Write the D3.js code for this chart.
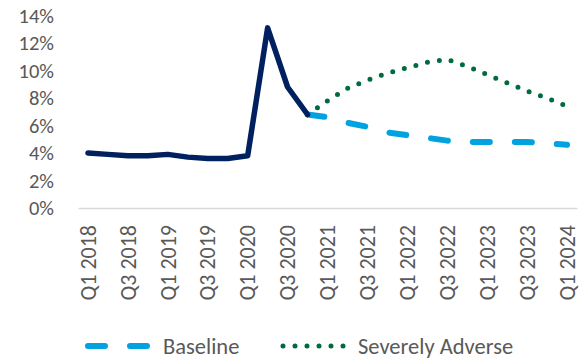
<!DOCTYPE html>
<html lang="en">
<head>
    <meta charset="UTF-8">
    <title>Unemployment rate scenarios</title>
    <script src="https://d3js.org/d3.v7.min.js"></script>
    <style>
        body { margin: 0; background: #fff; }
        svg text { font-family: Calibri, Carlito, Lato, sans-serif; fill: #595959; }
    </style>
</head>
<body>
    <script>
        // quarters on the category axis
        const quarters = [];
        for (let yr = 2018; yr <= 2024; yr++) {
            for (let q = 1; q <= 4; q++) {
                if (yr === 2024 && q > 1) break;
                quarters.push('Q' + q + ' ' + yr);
            }
        }
        const tickLabels = quarters.filter((d, i) => i % 2 === 0);

        // historical (Q1 2018 - Q4 2020)
        const history = [4.0, 3.9, 3.8, 3.8, 3.9, 3.7, 3.6, 3.6, 3.8, 13.1, 8.8, 6.8];
        // scenarios (Q4 2020 - Q1 2024)
        const baseline = [6.8, 6.6, 6.2, 5.9, 5.5, 5.3, 5.1, 4.9, 4.8, 4.8, 4.8, 4.8, 4.7, 4.6];
        const severe = [6.8, 7.8, 8.7, 9.3, 9.8, 10.2, 10.6, 10.8, 10.3, 9.7, 9.1, 8.5, 8.0, 7.4];
        const yTicks = [0, 2, 4, 6, 8, 10, 12, 14];

        const width = 585, height = 360;
        const svg = d3.select('body').append('svg')
            .attr('width', width)
            .attr('height', height);

        const x = d3.scaleBand().domain(quarters).range([78, 577]);
        const cx = d => x(d) + x.bandwidth() / 2;
        const y = d3.scaleLinear().domain([0, 14]).range([208, 15.5]);

        // y axis labels
        const yAxis = svg.append('g')
            .attr('transform', 'translate(54,0)')
            .call(d3.axisLeft(y).tickValues(yTicks).tickSize(0).tickPadding(0).tickFormat(d => d + '%'));
        yAxis.select('.domain').remove();
        yAxis.selectAll('text').attr('font-size', 20.5).style('fill', '#595959');

        // x axis
        const xAxis = svg.append('g')
            .attr('transform', 'translate(0,208)')
            .call(d3.axisBottom(x).tickValues(tickLabels).tickSize(0).tickPadding(0));
        xAxis.select('.domain').attr('stroke', '#d9d9d9').attr('stroke-width', 1.5);
        xAxis.selectAll('text')
            .attr('font-size', 22)
            .attr('text-anchor', 'end')
            .attr('transform', 'rotate(-90)')
            .attr('x', -17)
            .attr('y', 0)
            .attr('dy', '0.35em')
            .style('fill', '#595959');

        const line = d3.line()
            .x(d => cx(d.q))
            .y(d => y(d.v));

        const histData = history.map((v, i) => ({ q: quarters[i], v }));
        const baseData = baseline.map((v, i) => ({ q: quarters[i + 11], v }));
        const sevData = severe.map((v, i) => ({ q: quarters[i + 11], v }));

        svg.append('path').datum(baseData)
            .attr('d', line)
            .attr('fill', 'none')
            .attr('stroke', '#00a3e0')
            .attr('stroke-width', 6)
            .attr('stroke-linecap', 'round')
            .attr('stroke-dasharray', '17 25');

        svg.append('path').datum(sevData)
            .attr('d', line)
            .attr('fill', 'none')
            .attr('stroke', '#006b3c')
            .attr('stroke-width', 5)
            .attr('stroke-linecap', 'round')
            .attr('stroke-dasharray', '0 12');

        svg.append('path').datum(histData)
            .attr('d', line)
            .attr('fill', 'none')
            .attr('stroke', '#002060')
            .attr('stroke-width', 5.5)
            .attr('stroke-linejoin', 'round')
            .attr('stroke-linecap', 'round');

        // legend
        const legend = svg.append('g').attr('transform', 'translate(0,346)');
        legend.append('line')
            .attr('x1', 88).attr('x2', 150).attr('y1', 0).attr('y2', 0)
            .attr('stroke', '#00a3e0').attr('stroke-width', 6)
            .attr('stroke-linecap', 'round').attr('stroke-dasharray', '17 25');
        legend.append('text').attr('x', 163).attr('y', 0).attr('dy', '0.35em')
            .attr('font-size', 22.5).text('Baseline');
        legend.append('line')
            .attr('x1', 283).attr('x2', 345).attr('y1', 0).attr('y2', 0)
            .attr('stroke', '#006b3c').attr('stroke-width', 5)
            .attr('stroke-linecap', 'round').attr('stroke-dasharray', '0 12');
        legend.append('text').attr('x', 358).attr('y', 0).attr('dy', '0.35em')
            .attr('font-size', 22.5).text('Severely Adverse');
    </script>
</body>
</html>
